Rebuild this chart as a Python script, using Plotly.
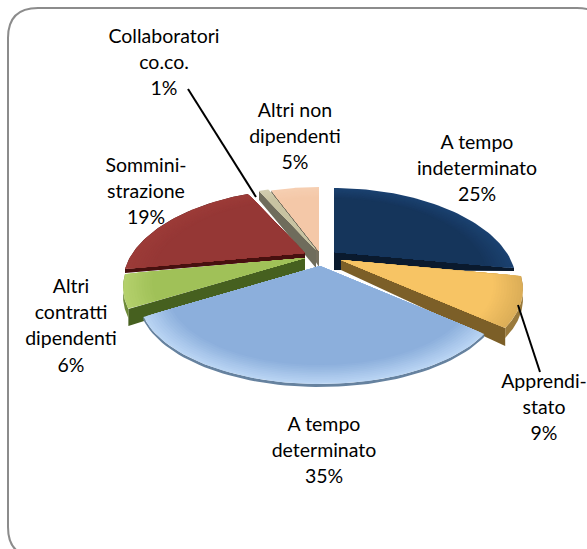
import math
import plotly.graph_objects as go

categories = ["A tempo indeterminato", "Apprendistato", "A tempo determinato",
              "Altri contratti dipendenti", "Somministrazione",
              "Collaboratori co.co.", "Altri non dipendenti"]
values = [25, 9, 35, 6, 19, 1, 5]
label_lines = [["A tempo", "indeterminato", "25%"],
               ["Apprendi-", "stato", "9%"],
               ["A tempo", "determinato", "35%"],
               ["Altri", "contratti", "dipendenti", "6%"],
               ["Sommini-", "strazione", "19%"],
               ["Collaboratori", "co.co.", "1%"],
               ["Altri non", "dipendenti", "5%"]]

# styling / layout (pixel-space axes)
label_pos = [(477, 144), (544, 383), (324, 426), (71, 288), (146, 167), (164, 38), (295, 112)]
LINE_H = 26.3
apex = [(334, 252), (341, 260), (320, 266), (305, 258), (305, 253), (316, 250), (319, 251)]
depth_in = [18, 10, 4, 12, 5, 18, 16]
depth_out = [3, 18, 4, 17, 4, 9, 2]
rim = [0, 10, 3, 9, 2, 0, 0]
face_outer = ["#1b4170", "#dcae58", "#b9d4f3", "#b4d06c", "#9c3b38", "#d2cdb0", "#f6cfb2"]
face_inner = ["#15355b", "#f7c464", "#8cafdc", "#a0c158", "#953735", "#c8c3a2", "#f4c8a8"]
side_col = ["#0a1a2e", "#7c5f28", "#5f7ea6", "#46601f", "#47100f", "#6f6c5c", "#77705f"]
rim_col = ["#0a1a2e", "#9a7a3c", "#66829f", "#6d8a38", "#47100f", "#6f6c5c", "#8a6a50"]
leaders = [((188, 89), (256, 197)), ((518, 305), (540, 372))]
order = [6, 5, 4, 0, 1, 3, 2]
RX, LAYERS = 180, 12


def project(a, t, s=1.0):
    """Outer point of the tilted disc at clockwise angle t, relative to apex a."""
    c, n = math.cos(t), math.sin(t)
    dx = RX * n * (1 - 0.15 * c)
    dy = 16 - 91 * c + 11 * c * c
    return a[0] + s * dx, a[1] + s * dy


def mix(c1, c2, f):
    a = [int(c1[i:i + 2], 16) for i in (1, 3, 5)]
    b = [int(c2[i:i + 2], 16) for i in (1, 3, 5)]
    return "#%02x%02x%02x" % tuple(round(p + (q - p) * f) for p, q in zip(a, b))


def poly(fig, pts, color):
    xs = [p[0] for p in pts] + [pts[0][0]]
    ys = [p[1] for p in pts] + [pts[0][1]]
    fig.add_trace(go.Scatter(x=xs, y=ys, mode="lines", fill="toself", fillcolor=color,
                             line=dict(width=0, color=color), hoverinfo="skip", showlegend=False))


fig = go.Figure()
total = sum(values)
bounds = []
acc = 0
for v in values:
    bounds.append((acc / total * 2 * math.pi, (acc + v) / total * 2 * math.pi))
    acc += v

for i in order:
    t0, t1 = bounds[i]
    a = apex[i]
    for t, vis in ((t0, math.cos(t0 - math.pi / 2) < 0), (t1, math.cos(t1 + math.pi / 2) < 0)):
        if vis:
            o = project(a, t)
            poly(fig, [a, o, (o[0], o[1] + depth_out[i]), (a[0], a[1] + depth_in[i])], side_col[i])
    ts = [t0 + (t1 - t0) * k / 60 for k in range(61)]
    if rim[i]:
        top = [project(a, t) for t in ts]
        low = [(p[0], p[1] + rim[i]) for p in top]
        poly(fig, top + low[::-1], rim_col[i])
    for k in range(LAYERS):
        f = k / (LAYERS - 1)
        s = 1 - 0.16 * f
        poly(fig, [a] + [project(a, t, s) for t in ts], mix(face_outer[i], face_inner[i], f))

for p, q in leaders:
    fig.add_trace(go.Scatter(x=[p[0], q[0]], y=[p[1], q[1]], mode="lines",
                             line=dict(color="#000000", width=2), hoverinfo="skip", showlegend=False))

for name, lines, pos in zip(categories, label_lines, label_pos):
    fig.add_trace(go.Scatter(x=[pos[0]] * len(lines), y=[pos[1] + j * LINE_H for j in range(len(lines))],
                             mode="text", text=lines, textposition="middle center", name=name,
                             textfont=dict(family="Lato", size=19.5, color="#000000"),
                             hoverinfo="skip", showlegend=False))

L, T, R, B, r = 8, 8, 607, 557, 30
fig.update_layout(
    width=587, height=549, autosize=False,
    margin=dict(l=0, r=0, t=0, b=0),
    paper_bgcolor="#ffffff", plot_bgcolor="#ffffff",
    xaxis=dict(range=[0, 587], visible=False, fixedrange=True),
    yaxis=dict(range=[549, 0], visible=False, fixedrange=True),
    shapes=[dict(type="path", layer="below", line=dict(color="#8c8c8c", width=2),
                 path=(f"M{L+r},{T} L{R-r},{T} Q{R},{T} {R},{T+r} L{R},{B-r} Q{R},{B} {R-r},{B} "
                       f"L{L+r},{B} Q{L},{B} {L},{B-r} L{L},{T+r} Q{L},{T} {L+r},{T} Z"))],
)
fig.write_html("out.html", config={"displayModeBar": False},
               post_script="document.body.style.margin='0';document.documentElement.style.overflow='hidden';")
